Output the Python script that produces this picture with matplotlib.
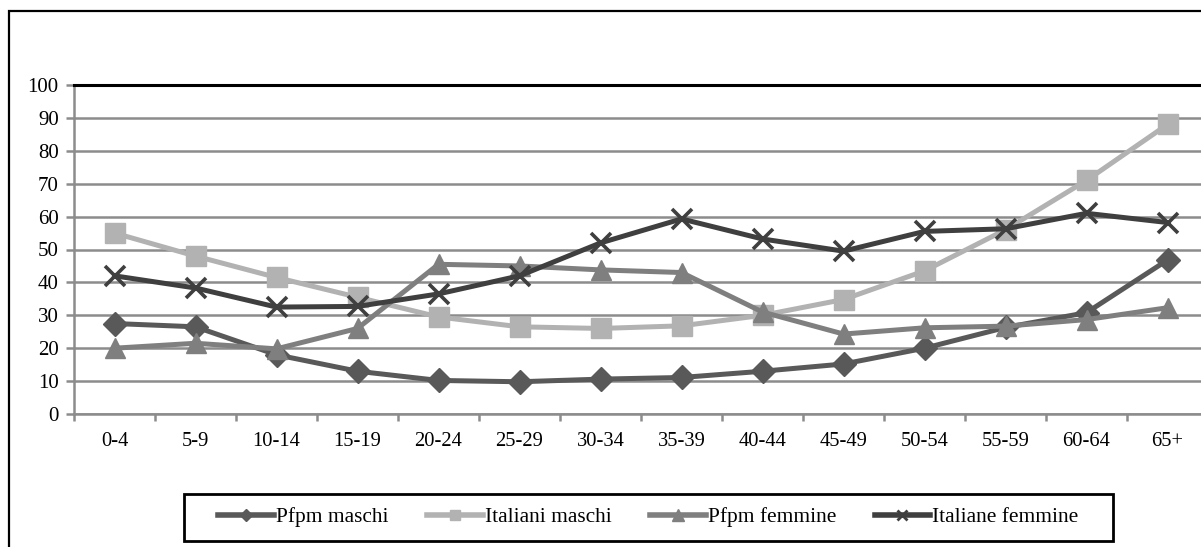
import numpy as np
import matplotlib
matplotlib.use("Agg")
import matplotlib.pyplot as plt
from matplotlib.patches import Rectangle
from matplotlib.lines import Line2D

# age classes
categories = ["0-4", "5-9", "10-14", "15-19", "20-24", "25-29", "30-34",
              "35-39", "40-44", "45-49", "50-54", "55-59", "60-64", "65+"]

# values
pfpm_maschi = [27.5, 26.5, 18, 13, 10.2, 9.8, 10.6, 11.1, 13, 15.2, 20, 26.3, 30.8, 46.8]
italiani_maschi = [55, 48, 41.5, 35.5, 29.5, 26.5, 26, 26.8, 30, 34.8, 43.5, 56, 71, 88]
pfpm_femmine = [20, 21.5, 19.8, 26, 45.5, 45, 43.8, 43, 31, 24.3, 26.2, 26.7, 28.7, 32.3]
italiane_femmine = [42, 38.3, 32.5, 32.7, 36.5, 42, 52, 59.3, 53.2, 49.5, 55.5, 56.3, 61, 58.2]

series = [
    ("Pfpm maschi", pfpm_maschi, "#595959", "D", 12),
    ("Italiani maschi", italiani_maschi, "#b2b2b2", "s", 14),
    ("Pfpm femmine", pfpm_femmine, "#7f7f7f", "^", 15),
    ("Italiane femmine", italiane_femmine, "#3f3f3f", "x", 14),
]

plt.rcParams["font.family"] = ["Liberation Serif", "DejaVu Serif"]

W, H = 1201, 547
fig = plt.figure(figsize=(W / 100, H / 100), dpi=100)

# outer chart frame (cut at right and bottom edges)
fig.patches.append(Rectangle((8.5 / W, -0.05), 1.1, 1 - 10.5 / H + 0.05,
                             transform=fig.transFigure, fill=False,
                             edgecolor="black", linewidth=1.6))

ax = fig.add_axes([74 / W, 1 - 414 / H, (1208 - 74) / W, (414 - 85) / H])

x = np.arange(len(categories)) + 0.5
for name, vals, col, mk, ms in series:
    if mk == "x":
        ax.plot(x, vals, color=col, lw=3.6, marker=mk, ms=ms, mew=2.6,
                label=name, clip_on=False, zorder=3)
    else:
        ax.plot(x, vals, color=col, lw=3.6, marker=mk, ms=ms, mec=col,
                label=name, clip_on=False, zorder=3)

ax.set_xlim(0, len(categories))
ax.set_ylim(0, 100)
ax.set_yticks(np.arange(0, 101, 10))
ax.yaxis.grid(True, color="#8c8c8c", lw=1.8)
ax.set_axisbelow(True)

# ticks at class boundaries, labels at class centres
ax.set_xticks(np.arange(0, len(categories) + 1))
ax.set_xticklabels([])
ax.set_xticks(x, minor=True)
ax.set_xticklabels(categories, minor=True)
ax.tick_params(axis="x", which="major", length=5, width=1.8, color="#8c8c8c")
ax.tick_params(axis="x", which="minor", length=0, pad=13, labelsize=14.8)
ax.tick_params(axis="y", length=6, width=1.8, color="#8c8c8c", labelsize=15, pad=5)

ax.spines["right"].set_visible(False)
ax.spines["left"].set_color("#8c8c8c")
ax.spines["left"].set_linewidth(1.8)
ax.spines["bottom"].set_color("#8c8c8c")
ax.spines["bottom"].set_linewidth(1.8)
ax.spines["top"].set_color("black")
ax.spines["top"].set_linewidth(2.2)

# legend box drawn separately (wider side padding than matplotlib's)
fig.patches.append(Rectangle((184 / W, 1 - 541 / H), (1113 - 184) / W, 47 / H,
                             transform=fig.transFigure, fill=False,
                             edgecolor="black", linewidth=2))

handles = [Line2D([], [], color=col, lw=4, marker=mk, ms=ms * 0.55,
                  mew=2 if mk == "x" else 1, mec=col)
           for _, _, col, mk, ms in series]
leg = fig.legend(handles=handles, labels=[s[0] for s in series], loc="center",
                 bbox_to_anchor=((184 + 1113) / 2 / W, 1 - (494 + 541) / 2 / H),
                 ncol=4, fontsize=15.4, frameon=False,
                 handlelength=2.6, handletextpad=0.1, columnspacing=1.8,
                 borderpad=0.3, borderaxespad=0)

fig.savefig("out.png", dpi=100)
